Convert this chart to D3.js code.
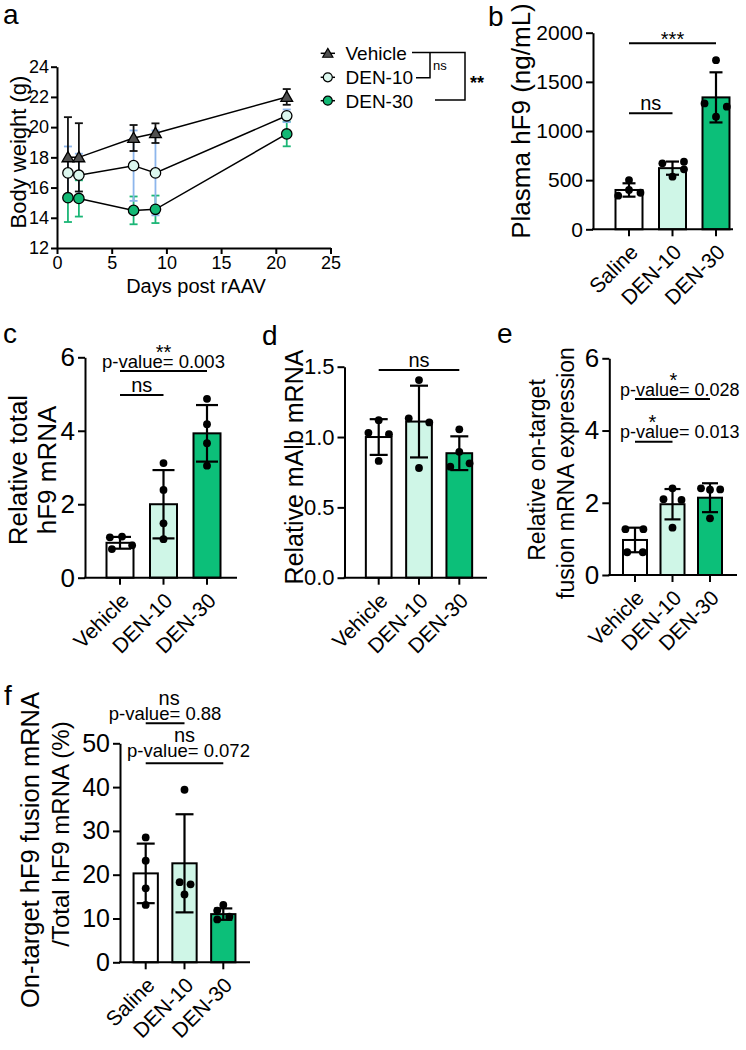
<!DOCTYPE html>
<html><head><meta charset="utf-8">
<script src="https://cdn.jsdelivr.net/npm/d3@7"></script>
<style>body{margin:0;background:#fff;} svg{display:block;font-family:'Liberation Sans',Arial,sans-serif;}</style>
</head><body>
<script>
// ---------------- DATA ----------------
const daysA = [1, 2, 7, 9, 21];
const xTicksA = [0, 5, 10, 15, 20, 25];
const yTicksA = [12, 14, 16, 18, 20, 22, 24];
const seriesNamesA = ["Vehicle", "DEN-10", "DEN-30"];
const vehicleMean = [18.0, 18.0, 19.28, 19.6, 22.0];
const vehicleSD   = [2.66, 2.26, 0.86, 0.65, 0.52];
const den10Mean   = [16.97, 16.82, 17.45, 16.97, 20.75];
const den10SD     = [1.75, 1.42, 2.33, 2.81, 0.42];
const den30Mean   = [15.33, 15.28, 14.49, 14.56, 19.55];
const den30SD     = [1.61, 1.2, 0.92, 0.91, 0.82];

const catsSaline  = ["Saline", "DEN-10", "DEN-30"];
const catsVehicle = ["Vehicle", "DEN-10", "DEN-30"];

const ticksB  = [0, 500, 1000, 1500, 2000];
const meanB   = [400, 622, 1342];
const sdB     = [68, 67, 255];
const pointsB = [[501, 400, 342, 372], [671, 687, 610, 535], [1721, 1281, 1247, 1145]];

const ticksC  = [0, 2, 4, 6];
const meanC   = [0.95, 2.0, 3.93];
const sdC     = [0.16, 0.93, 0.77];
const pointsC = [[1.1, 1.12, 0.88, 0.78], [3.12, 2.39, 1.48, 1.05], [4.87, 4.18, 3.66, 3.05]];

const ticksD  = [0, 0.5, 1.0, 1.5];
const meanD   = [1.0, 1.11, 0.885];
const sdD     = [0.127, 0.255, 0.12];
const pointsD = [[1.12, 1.03, 1.02, 0.83], [1.405, 1.133, 1.104, 0.78], [1.055, 0.895, 0.789, 0.813]];

const ticksE  = [0, 2, 4, 6];
const meanE   = [0.97, 1.96, 2.14];
const sdE     = [0.34, 0.42, 0.4];
const pointsE = [[1.27, 1.27, 0.63, 0.63], [2.1, 2.08, 2.4, 1.31], [2.4, 2.37, 2.36, 1.57]];

const ticksF  = [0, 10, 20, 30, 40, 50];
const meanF   = [20.3, 22.6, 11.0];
const sdF     = [6.8, 11.2, 1.3];
const pointsF = [[28.5, 23.2, 16.9, 13.1], [39.4, 18.3, 17.8, 15.5], [13.1, 11.8, 9.8, 10.4]];

// dot spread pattern (fraction of half bar width)
const jitterB = [[0, 0, -0.8, 0.85], [-0.75, 0.85, 0.85, 0], [0, -0.85, 0.8, 0]];
const jitterC = [[-0.75, 0.15, 0.9, -0.6], [0, 0, 0, 0], [0, 0, 0, 0]];
const jitterD = [[0, -0.8, 0.8, 0], [0, -0.8, 0.8, 0], [0, 0, -0.7, 0.8]];
const jitterE = [[-0.8, 0.7, -0.65, 0.65], [-0.75, 0.75, 0, 0], [-0.75, 0.85, 0, 0]];
const jitterF = [[0, 0, 0, 0], [0, -0.4, 0.5, 0], [0, -0.5, -0.5, 0.5]];

// ---------------- STYLE ----------------
const barColors = ["#ffffff", "#cff6e7", "#0cbf79"];
const FONT = "'Liberation Sans', Arial, sans-serif";

const svg = d3.select("body").append("svg").attr("width", 746).attr("height", 1050)
  .style("font-family", FONT);

function txt(g, x, y, s, size, opts = {}) {
  const t = g.append("text").attr("x", x).attr("y", y).text(s)
    .attr("font-size", size).attr("fill", "#000")
    .attr("text-anchor", opts.anchor || "middle");
  if (opts.weight) t.attr("font-weight", opts.weight);
  return t;
}
function vtext(g, cx, cy, s, size) {
  g.append("text").attr("transform", `translate(${cx},${cy}) rotate(-90)`)
    .attr("text-anchor", "middle").attr("dy", "0.35em")
    .attr("font-size", size).attr("fill", "#000").text(s);
}
function line(g, x1, y1, x2, y2, w = 2, c = "#000") {
  g.append("line").attr("x1", x1).attr("y1", y1).attr("x2", x2).attr("y2", y2)
    .attr("stroke", c).attr("stroke-width", w);
}
function styleAxis(a, size) {
  a.select(".domain").attr("stroke-width", 2).attr("stroke", "#000");
  a.selectAll(".tick line").attr("stroke-width", 2).attr("stroke", "#000");
  a.selectAll(".tick text").attr("font-size", size).attr("fill", "#000").attr("font-family", FONT);
}

// ---------------- PANEL A ----------------
(function () {
  const g = svg.append("g");
  const x = d3.scaleLinear().domain([0, 25]).range([57, 330.5]);
  const y = d3.scaleLinear().domain([12, 24]).range([248, 66.7]);
  const ya = g.append("g").attr("transform", `translate(${x(0)},0)`)
    .call(d3.axisLeft(y).tickValues(yTicksA).tickSize(6).tickSizeOuter(0).tickPadding(2));
  styleAxis(ya, 18);
  const xa = g.append("g").attr("transform", `translate(0,${y(12)})`)
    .call(d3.axisBottom(x).tickValues(xTicksA).tickSize(6).tickSizeOuter(0).tickPadding(2));
  styleAxis(xa, 18);
  vtext(g, 18, 152, "Body weight (g)", 22);
  txt(g, 196, 293, "Days post rAAV", 20);

  const series = [
    { mean: vehicleMean, sd: vehicleSD, sym: d3.symbolTriangle, size: 60, fill: "#505050", err: "#111111" },
    { mean: den10Mean, sd: den10SD, sym: d3.symbolCircle, size: 85, fill: "#dcf7ee", err: "#8db6ec" },
    { mean: den30Mean, sd: den30SD, sym: d3.symbolCircle, size: 85, fill: "#12b874", err: "#1bb676" }
  ];
  const cap = 4;
  [2, 1, 0].forEach(si => {
    const s = series[si];
    daysA.forEach((d, i) => {
      const lo = y(s.mean[i] - s.sd[i]), hi = y(s.mean[i] + s.sd[i]), cx = x(d);
      line(g, cx, lo, cx, hi, 1.8, s.err);
      line(g, cx - cap, lo, cx + cap, lo, 1.8, s.err);
      line(g, cx - cap, hi, cx + cap, hi, 1.8, s.err);
    });
  });
  const lg = d3.line().x((d, i) => x(daysA[i])).y(d => y(d));
  series.forEach(s => {
    g.append("path").attr("d", lg(s.mean)).attr("fill", "none").attr("stroke", "#000").attr("stroke-width", 1.5);
  });
  [2, 1, 0].forEach(si => {
    const s = series[si];
    g.selectAll(null).data(s.mean).join("path")
      .attr("transform", (d, i) => `translate(${x(daysA[i])},${y(d) + (s.sym === d3.symbolTriangle ? 1 : 0)})`)
      .attr("d", d3.symbol(s.sym, s.size)())
      .attr("fill", s.fill).attr("stroke", "#000").attr("stroke-width", 1.3);
  });
  // legend
  const rows = [53.3, 77.3, 100.7];
  series.forEach((s, i) => {
    line(g, 320.7, rows[i], 335, rows[i], 1.5);
    g.append("path").attr("transform", `translate(327.8,${rows[i] + (i === 0 ? 1 : 0)})`)
      .attr("d", d3.symbol(s.sym, s.size * 0.75)())
      .attr("fill", s.fill).attr("stroke", "#000").attr("stroke-width", 1.2);
    txt(g, 345.5, rows[i] + 7, seriesNamesA[i], 19, { anchor: "start" });
  });
  g.append("path").attr("d", "M412,52.5H465V100H435").attr("fill", "none").attr("stroke", "#000").attr("stroke-width", 1.5);
  g.append("path").attr("d", "M430,52.5V77.7H416").attr("fill", "none").attr("stroke", "#000").attr("stroke-width", 1.5);
  txt(g, 433, 70, "ns", 13, { anchor: "start" });
  txt(g, 470, 89, "**", 18, { anchor: "start", weight: "bold" });
})();

// ---------------- BAR PANELS ----------------
function barPanel(o) {
  const g = svg.append("g");
  const pad = 1 - o.bw / o.step;
  const x = d3.scaleBand().domain(o.cats)
    .range([o.c0 - o.step / 2, o.c0 + o.step * 2.5]).paddingInner(pad).paddingOuter(pad / 2);
  const y = d3.scaleLinear().domain([o.ticks[0], o.ticks[o.ticks.length - 1]]).range([o.y0, o.y1]);
  const cx = i => x(o.cats[i]) + x.bandwidth() / 2;

  g.selectAll(null).data(o.mean).join("rect")
    .attr("x", (d, i) => x(o.cats[i])).attr("y", d => y(d))
    .attr("width", x.bandwidth()).attr("height", d => y(0) - y(d))
    .attr("fill", (d, i) => barColors[i]).attr("stroke", "#000").attr("stroke-width", 2);

  o.mean.forEach((m, i) => {
    const lo = y(m - o.sd[i]), hi = y(m + o.sd[i]);
    line(g, cx(i), lo, cx(i), hi, 2.2);
    line(g, cx(i) - o.cap / 2, lo, cx(i) + o.cap / 2, lo, 2.2);
    line(g, cx(i) - o.cap / 2, hi, cx(i) + o.cap / 2, hi, 2.2);
  });

  o.points.forEach((arr, i) => {
    g.selectAll(null).data(arr).join("circle")
      .attr("cx", (d, j) => cx(i) + o.jitter[i][j] * x.bandwidth() / 2)
      .attr("cy", d => y(d)).attr("r", 3.9).attr("fill", "#000");
  });

  const ya = g.append("g").attr("transform", `translate(${o.ax},0)`)
    .call(d3.axisLeft(y).tickValues(o.ticks).tickFormat(o.fmt || d3.format("d"))
      .tickSize(7).tickSizeOuter(0).tickPadding(3));
  styleAxis(ya, o.tickFont);

  const xa = g.append("g").attr("transform", `translate(0,${o.y0})`)
    .call(d3.axisBottom(x).tickSize(7).tickSizeOuter(0));
  xa.select(".domain").remove();
  styleAxis(xa, 21);
  xa.selectAll(".tick text").attr("x", 0).attr("y", 0).attr("dy", "0.35em")
    .attr("transform", "translate(5,19) rotate(-45)").attr("text-anchor", "end");
  line(g, o.ax - 1, o.y0, o.xEnd, o.y0, 2);

  return { g, x, y, cx };
}

// Panel B
(function () {
  const p = barPanel({ cats: catsSaline, mean: meanB, sd: sdB, points: pointsB, jitter: jitterB,
    ticks: ticksB, ax: 593, xEnd: 733, c0: 629, step: 43.5, bw: 27, y0: 229.3, y1: 32.7,
    cap: 13, tickFont: 21 });
  const g = p.g;
  vtext(g, 521, 121, "Plasma hF9 (ng/mL)", 26);
  line(g, p.cx(0), 43.3, p.cx(2), 43.3, 2);
  txt(g, (p.cx(0) + p.cx(2)) / 2, 46, "***", 20);
  line(g, p.cx(0), 113.3, p.cx(1), 113.3, 2);
  txt(g, (p.cx(0) + p.cx(1)) / 2, 110, "ns", 20);
})();

// Panel C
(function () {
  const p = barPanel({ cats: catsVehicle, mean: meanC, sd: sdC, points: pointsC, jitter: jitterC,
    ticks: ticksC, ax: 85, xEnd: 237, c0: 120, step: 43.5, bw: 27, y0: 577.7, y1: 357.3,
    cap: 22, tickFont: 26 });
  const g = p.g;
  vtext(g, 18, 470, "Relative total", 26);
  vtext(g, 47, 470, "hF9 mRNA", 26);
  line(g, p.cx(0), 371, p.cx(2), 371, 2);
  txt(g, (p.cx(0) + p.cx(2)) / 2, 368, "p-value= 0.003", 18.5);
  txt(g, (p.cx(0) + p.cx(2)) / 2, 359, "**", 20);
  line(g, p.cx(0), 395, p.cx(1), 395, 2);
  txt(g, (p.cx(0) + p.cx(1)) / 2, 392, "ns", 20);
})();

// Panel D
(function () {
  const p = barPanel({ cats: catsVehicle, mean: meanD, sd: sdD, points: pointsD, jitter: jitterD,
    ticks: ticksD, fmt: d3.format(".1f"), ax: 344.5, xEnd: 487, c0: 378.7, step: 40.3, bw: 25.7,
    y0: 577.7, y1: 366.7, cap: 18, tickFont: 22 });
  const g = p.g;
  vtext(g, 294, 467, "Relative mAlb mRNA", 25);
  line(g, p.cx(0), 370, p.cx(2), 370, 2);
  txt(g, (p.cx(0) + p.cx(2)) / 2, 366.5, "ns", 20);
})();

// Panel E
(function () {
  const p = barPanel({ cats: catsVehicle, mean: meanE, sd: sdE, points: pointsE, jitter: jitterE,
    ticks: ticksE, ax: 609.3, xEnd: 737, c0: 635, step: 37.5, bw: 24, y0: 575, y1: 358.3,
    cap: 16, tickFont: 26 });
  const g = p.g;
  vtext(g, 537, 470, "Relative on-target", 23);
  vtext(g, 566, 473, "fusion mRNA expression", 23);
  line(g, p.cx(0), 399, p.cx(2), 399, 2);
  txt(g, 620, 395.5, "p-value= 0.028", 18, { anchor: "start" });
  txt(g, 673.5, 387, "*", 20);
  line(g, p.cx(0), 441.7, p.cx(1), 441.7, 2);
  txt(g, 620, 437.5, "p-value= 0.013", 18, { anchor: "start" });
  txt(g, 652.5, 429, "*", 20);
})();

// Panel F
(function () {
  const p = barPanel({ cats: catsSaline, mean: meanF, sd: sdF, points: pointsF, jitter: jitterF,
    ticks: ticksF, ax: 120, xEnd: 250, c0: 145.7, step: 38.8, bw: 24.3, y0: 962.3, y1: 743.3,
    cap: 18, tickFont: 25 });
  const g = p.g;
  vtext(g, 30, 850, "On-target hF9 fusion mRNA", 25.5);
  vtext(g, 61, 834, "/Total hF9 mRNA (%)", 24);
  line(g, p.cx(0), 723.3, p.cx(1), 723.3, 2);
  txt(g, (p.cx(0) + p.cx(1)) / 2, 720, "p-value= 0.88", 18.5);
  txt(g, (p.cx(0) + p.cx(1)) / 2 + 4, 705, "ns", 20);
  line(g, p.cx(0), 763.3, p.cx(2), 763.3, 2);
  txt(g, (p.cx(0) + p.cx(2)) / 2 + 4, 757, "p-value= 0.072", 18.5);
  txt(g, (p.cx(0) + p.cx(2)) / 2, 742, "ns", 20);
})();

// Panel letters
const letters = [["a", 3, 24], ["b", 488, 26], ["c", 3, 343], ["d", 262, 345], ["e", 497, 343], ["f", 4, 705]];
letters.forEach(([s, x, y]) => txt(svg, x, y, s, 28, { anchor: "start" }));
</script>
</body></html>
